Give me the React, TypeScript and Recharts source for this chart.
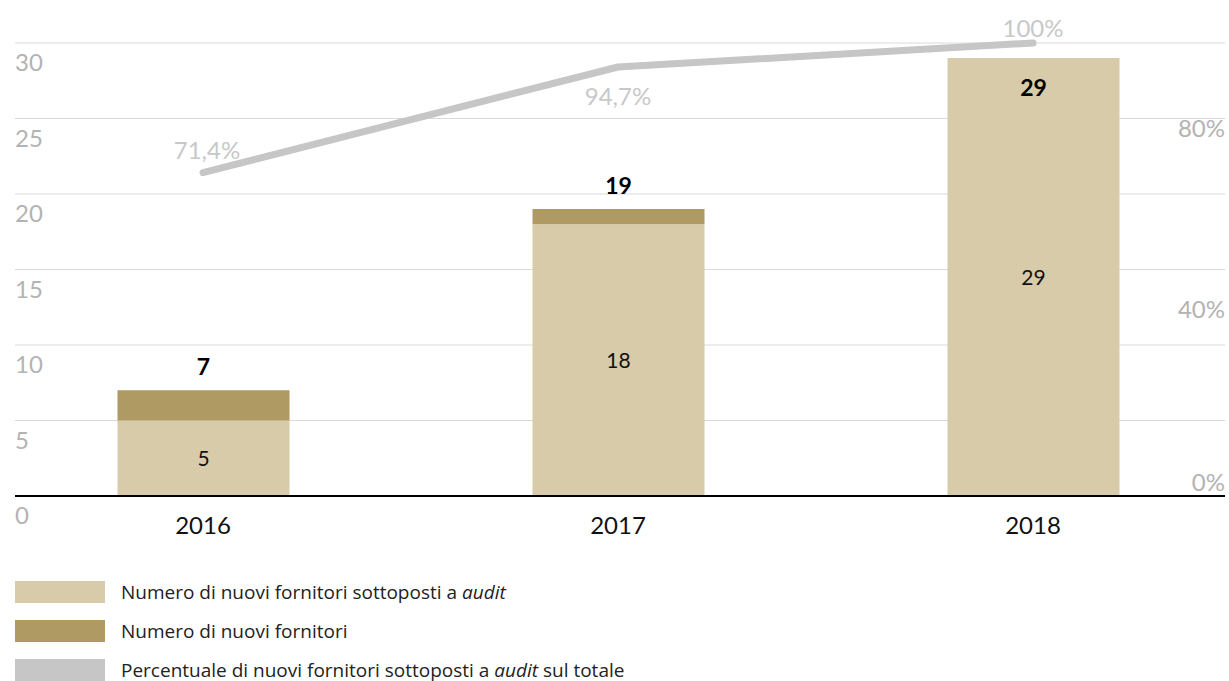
import React from 'react';
import {
  ComposedChart,
  Bar,
  Line,
  XAxis,
  YAxis,
  CartesianGrid,
  LabelList
} from 'recharts';

const years = ['2016', '2017', '2018'];
const auditedSuppliers = [5, 18, 29];
const newSuppliers = [7, 19, 29];
const auditedShare = [71.4, 94.7, 100];
const leftTicks = [0, 5, 10, 15, 20, 25, 30];
const rightTicks = [0, 40, 80];
const legendLabels = [
  'Numero di nuovi fornitori sottoposti a ',
  'Numero di nuovi fornitori',
  'Percentuale di nuovi fornitori sottoposti a '
];

const FONT = 'Lato, "Open Sans", sans-serif';
const LEGEND_FONT = '"Open Sans", Lato, sans-serif';
const LIGHT = '#d8cbaa';
const DARK = '#b09a64';
const LINE = '#c6c6c6';

const data = years.map((year, i) => ({
  year,
  audited: auditedSuppliers[i],
  rest: newSuppliers[i] - auditedSuppliers[i],
  total: newSuppliers[i],
  share: auditedShare[i]
}));

const fmtPct = (v: number) => String(v).replace('.', ',') + '%';

function LeftTick({ y, payload }: any) {
  return (
    <text x={15} y={y + 28} fill="#b3b3b3" fontSize={24} fontFamily={FONT}>
      {payload.value}
    </text>
  );
}

function RightTick({ y, payload }: any) {
  const baseline = Math.min(y + 3, 491);
  return (
    <text x={1225} y={baseline} fill="#b3b3b3" fontSize={24} fontFamily={FONT} textAnchor="end">
      {payload.value}%
    </text>
  );
}

function YearTick({ x, y, payload }: any) {
  return (
    <text x={x} y={y + 30} fill="#111" fontSize={24} fontFamily={FONT} textAnchor="middle">
      {payload.value}
    </text>
  );
}

// il totale sta sulla barra "audited": la cima della pila si ricava dall'altezza della barra
function TotalLabel({ x, y, width, height, value, index }: any) {
  const audited = auditedSuppliers[index];
  const top = y - ((value - audited) * height) / audited;
  const inside = top < 100;
  return (
    <text
      x={x + width / 2}
      y={inside ? top + 38 : top - 15}
      fill="#000"
      fontSize={23}
      fontWeight={700}
      fontFamily={FONT}
      textAnchor="middle"
    >
      {value}
    </text>
  );
}

function ShareLabel({ x, y, value, index }: any) {
  const dy = [-14, 38, -6][index] ?? -10;
  return (
    <text
      x={x + (index === 0 ? 4 : 0)}
      y={y + dy}
      fill="#c8c8c8"
      fontSize={24}
      fontFamily={FONT}
      textAnchor="middle"
    >
      {fmtPct(value)}
    </text>
  );
}

function LegendBlock() {
  const colors = [LIGHT, DARK, LINE];
  return (
    <div style={{ position: 'absolute', left: 15, top: 572 }}>
      {legendLabels.map((label, i) => (
        <div key={label} style={{ display: 'flex', alignItems: 'center', height: 39 }}>
          <div style={{ width: 90, height: 22, background: colors[i] }} />
          <span
            style={{
              marginLeft: 16,
              fontSize: 19,
              lineHeight: '22px',
              color: '#222',
              fontFamily: LEGEND_FONT
            }}
          >
            {label}
            {i !== 1 && <i>audit</i>}
            {i === 2 && ' sul totale'}
          </span>
        </div>
      ))}
    </div>
  );
}

export default function App() {
  return (
    <div
      style={{
        position: 'absolute',
        left: 0,
        top: 0,
        width: 1229,
        height: 681,
        overflow: 'hidden',
        background: '#fff',
        fontFamily: FONT
      }}
    >
      <ComposedChart
        width={1229}
        height={681}
        data={data}
        margin={{ top: 43, right: 3, bottom: 145, left: 14 }}
      >
        <CartesianGrid yAxisId="left" vertical={false} stroke="#dadada" strokeWidth={1} />
        <XAxis
          dataKey="year"
          padding={{ left: -19.5, right: -15.5 }}
          axisLine={{ stroke: '#000', strokeWidth: 2 }}
          tickLine={false}
          height={40}
          tick={<YearTick />}
        />
        <YAxis
          yAxisId="left"
          domain={[0, 30]}
          ticks={leftTicks}
          interval={0}
          width={1}
          axisLine={false}
          tickLine={false}
          tick={<LeftTick />}
        />
        <YAxis
          yAxisId="right"
          orientation="right"
          domain={[0, 100]}
          ticks={rightTicks}
          interval={0}
          width={1}
          axisLine={false}
          tickLine={false}
          tick={<RightTick />}
        />
        <Bar yAxisId="left" dataKey="audited" stackId="a" fill={LIGHT} barSize={172} isAnimationActive={false}>
          <LabelList dataKey="audited" position="center" fill="#111" fontSize={21} fontFamily={FONT} />
          <LabelList dataKey="total" content={<TotalLabel />} />
        </Bar>
        <Bar yAxisId="left" dataKey="rest" stackId="a" fill={DARK} barSize={172} isAnimationActive={false} />
        <Line
          yAxisId="right"
          type="linear"
          dataKey="share"
          stroke={LINE}
          strokeWidth={7}
          strokeLinecap="round"
          strokeLinejoin="round"
          dot={false}
          activeDot={false}
          isAnimationActive={false}
        >
          <LabelList dataKey="share" content={<ShareLabel />} />
        </Line>
      </ComposedChart>
      <LegendBlock />
    </div>
  );
}
